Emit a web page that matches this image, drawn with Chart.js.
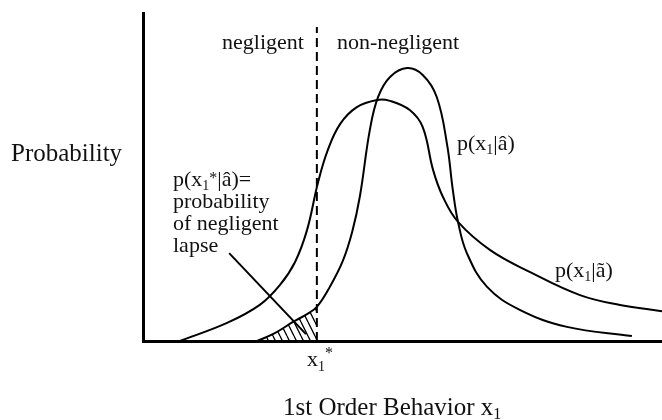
<!DOCTYPE html>
<html>
<head>
<meta charset="utf-8">
<script src="https://cdn.jsdelivr.net/npm/chart.js@4.4.0/dist/chart.umd.min.js"></script>
<style>
  body { margin: 0; background: #fff; }
</style>
</head>
<body>
<canvas id="grafico" width="662" height="420"></canvas>
<script>
// p(x1|ã) - curva mais larga
var tilX = [0.71, 1.62, 2.25, 2.64, 2.93, 3.16, 3.37, 3.56, 3.80, 4.12, 4.51, 4.76, 5.14, 5.39, 5.59, 5.78, 6.07, 6.69, 7.46, 8.42, 9.19, 10.0];
var tilY = [0, 0.055, 0.110, 0.171, 0.241, 0.338, 0.482, 0.582, 0.662, 0.713, 0.735, 0.732, 0.704, 0.652, 0.521, 0.439, 0.363, 0.277, 0.210, 0.140, 0.110, 0.091];

// p(x1|â) - curva mais alta e estreita
var hatX = [2.20, 2.54, 2.89, 3.16, 3.35, 3.60, 3.85, 4.03, 4.18, 4.37, 4.53, 4.76, 5.09, 5.39, 5.66, 5.86, 5.97, 6.07, 6.24, 6.63, 7.26, 8.17, 9.42];
var hatY = [0, 0.024, 0.058, 0.082, 0.104, 0.165, 0.244, 0.332, 0.442, 0.643, 0.744, 0.805, 0.832, 0.811, 0.744, 0.598, 0.460, 0.363, 0.268, 0.165, 0.095, 0.043, 0.015];

// limite x1* e linha tracejada
var xStar = 3.35;
var dashTop = 0.957;

// seta "lapse" -> area hachurada
var ptrX = [1.66, 3.14];
var ptrY = [0.268, 0.021];

function pontos(xs, ys) {
    return xs.map(function (x, i) { return { x: x, y: ys[i] }; });
}

// padrao de hachura "\\\"
function hachura() {
    var w = 7, h = 14;
    var c = document.createElement('canvas');
    c.width = w; c.height = h;
    var g = c.getContext('2d');
    g.strokeStyle = '#000';
    g.lineWidth = 1.3;
    g.beginPath();
    [-w, 0, w].forEach(function (o) {
        g.moveTo(o, 0);
        g.lineTo(o + w, h);
    });
    g.stroke();
    return g.createPattern(c, 'repeat');
}

var hatchPts = pontos(hatX, hatY).filter(function (p) { return p.x <= xStar; });

var fonte = '"Liberation Serif", "Times New Roman", serif';

function texto(ctx, x, y, partes) {
    partes.forEach(function (p) {
        ctx.font = p[1] + 'px ' + fonte;
        ctx.fillText(p[0], x, y + (p[2] || 0));
        x += ctx.measureText(p[0]).width;
    });
}

var rotulos = {
    id: 'rotulos',
    afterDraw: function (chart) {
        var ctx = chart.ctx;
        ctx.save();
        ctx.fillStyle = '#111';
        ctx.textBaseline = 'alphabetic';
        ctx.textAlign = 'left';
        texto(ctx, 222, 49, [['negligent', 22]]);
        texto(ctx, 337, 49, [['non-negligent', 22]]);
        texto(ctx, 11, 161, [['Probability', 25]]);
        texto(ctx, 457, 150, [['p(x', 22], ['1', 14, 4], ['|â)', 22]]);
        texto(ctx, 555, 277, [['p(x', 22], ['1', 14, 4], ['|ã)', 22]]);
        texto(ctx, 173, 186, [['p(x', 22], ['1', 14, 4], ['*', 16, -3], ['|â)=', 22]]);
        texto(ctx, 173, 208, [['probability', 22]]);
        texto(ctx, 173, 230, [['of negligent', 22]]);
        texto(ctx, 173, 252, [['lapse', 22]]);
        texto(ctx, 307, 366, [['x', 22], ['1', 14, 5], ['*', 16, -8]]);
        texto(ctx, 283, 415, [['1st Order Behavior x', 25], ['1', 16, 4]]);
        ctx.restore();
    }
};

var ctx = document.getElementById('grafico').getContext('2d');
var grafico = new Chart(ctx, {
    type: 'scatter',
    data: {
        datasets: [
            {
                data: hatchPts,
                showLine: true,
                borderWidth: 0,
                borderColor: 'rgba(0,0,0,0)',
                backgroundColor: hachura(),
                fill: 'origin',
                pointRadius: 0,
                tension: 0.4
            },
            {
                data: pontos(tilX, tilY),
                showLine: true,
                borderColor: '#000',
                borderWidth: 2,
                pointRadius: 0,
                tension: 0.4
            },
            {
                data: pontos(hatX, hatY),
                showLine: true,
                borderColor: '#000',
                borderWidth: 2,
                pointRadius: 0,
                tension: 0.4
            },
            {
                data: pontos([xStar, xStar], [0, dashTop]),
                showLine: true,
                borderColor: '#000',
                borderWidth: 2,
                borderDash: [9, 5],
                pointRadius: 0
            },
            {
                data: pontos(ptrX, ptrY),
                showLine: true,
                borderColor: '#000',
                borderWidth: 2,
                pointRadius: 0
            }
        ]
    },
    options: {
        responsive: false,
        animation: false,
        layout: { padding: { left: 143, top: 13, right: 0, bottom: 79 } },
        scales: {
            x: {
                type: 'linear', min: 0, max: 10,
                grid: { display: false, drawTicks: false },
                ticks: { display: false },
                border: { display: true, width: 3, color: '#000' }
            },
            y: {
                min: 0, max: 1,
                grid: { display: false, drawTicks: false },
                ticks: { display: false },
                border: { display: true, width: 3, color: '#000' }
            }
        },
        plugins: {
            legend: { display: false },
            tooltip: { enabled: false }
        }
    },
    plugins: [rotulos]
});
</script>
</body>
</html>
